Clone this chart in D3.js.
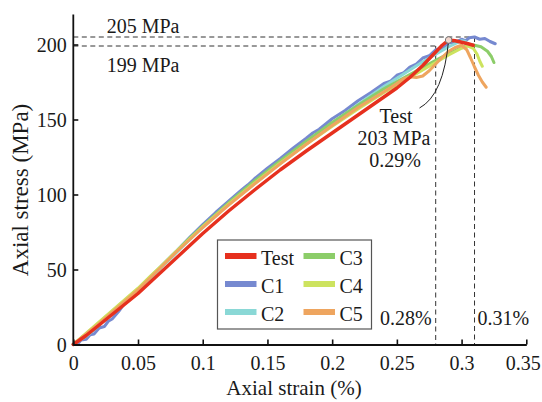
<!DOCTYPE html>
<html>
<head>
<meta charset="utf-8">
<script src="https://cdn.jsdelivr.net/npm/d3@7"></script>
<style>
  html, body { margin: 0; padding: 0; background: #fff; }
  svg text { font-family: "Liberation Serif", "Times New Roman", serif; fill: #1a1a1a; }
</style>
</head>
<body>
<svg id="chart" width="542" height="402"></svg>
<script>
// Stress–strain curves: laboratory test and five numerical cases
const seriesNames = ["Test", "C1", "C2", "C3", "C4", "C5"];

const testStrain = [0, 0.01, 0.02, 0.03, 0.04, 0.05, 0.06, 0.07, 0.08, 0.09, 0.10, 0.12, 0.14, 0.16, 0.18, 0.20, 0.22, 0.24, 0.25, 0.26, 0.27, 0.28, 0.285, 0.29, 0.295, 0.30, 0.305, 0.309];
const testStress = [0, 6, 13, 20, 27, 34, 42, 50, 58, 66, 74, 89, 103, 116.5, 129, 141, 153, 165, 171, 178, 186, 195, 199.5, 203, 202.5, 201.5, 200.5, 199.5];

const c1Strain = [0, 0.004, 0.006, 0.01, 0.013, 0.016, 0.02, 0.024, 0.027, 0.03, 0.035, 0.04, 0.05, 0.06, 0.07, 0.08, 0.09, 0.10, 0.11, 0.12, 0.13, 0.135, 0.14, 0.15, 0.16, 0.17, 0.18, 0.185, 0.19, 0.20, 0.21, 0.22, 0.23, 0.24, 0.245, 0.25, 0.255, 0.26, 0.265, 0.27, 0.275, 0.28, 0.285, 0.29, 0.295, 0.30, 0.303, 0.306, 0.31, 0.314, 0.318, 0.322, 0.326];
const c1Stress = [0, 1, 3, 3.5, 6.5, 7, 11, 12, 15.5, 17, 22, 28, 36.5, 45, 54, 62.5, 71.5, 80, 88, 95.5, 103, 106.5, 110.5, 117.5, 124, 131, 137.5, 141, 143.5, 150.5, 156, 162.5, 168, 174, 175.5, 179.5, 181, 185, 187, 191, 192.5, 196.5, 197.5, 201, 201.5, 203.5, 202.5, 204.5, 205, 203.5, 204, 202, 200.5];

const c2Strain = [0, 0.01, 0.02, 0.03, 0.04, 0.05, 0.06, 0.07, 0.08, 0.09, 0.10, 0.12, 0.14, 0.16, 0.18, 0.20, 0.22, 0.24, 0.26, 0.27, 0.28, 0.29, 0.295, 0.30, 0.303];
const c2Stress = [0, 5.5, 13, 21, 28.5, 36, 44.5, 53, 61.5, 70, 78, 93.5, 107.5, 121, 134.5, 147.5, 160, 172, 183, 188.5, 193.5, 198.5, 200.5, 202.5, 202];

const c3Strain = [0, 0.01, 0.02, 0.03, 0.04, 0.05, 0.06, 0.07, 0.08, 0.09, 0.10, 0.12, 0.14, 0.16, 0.18, 0.20, 0.22, 0.24, 0.26, 0.28, 0.29, 0.30, 0.305, 0.31, 0.315, 0.32, 0.323, 0.325];
const c3Stress = [0, 7, 14.5, 22, 29.5, 37, 45.5, 54, 62.5, 71, 79, 94.5, 109, 122.5, 135.5, 148, 159.5, 170.5, 180, 189.5, 194, 198, 200, 199.5, 198.5, 195.5, 192, 188];

const c4Strain = [0, 0.01, 0.02, 0.03, 0.04, 0.05, 0.06, 0.07, 0.08, 0.09, 0.10, 0.12, 0.14, 0.16, 0.18, 0.20, 0.22, 0.24, 0.26, 0.28, 0.29, 0.30, 0.305, 0.309, 0.312, 0.314, 0.316];
const c4Stress = [0, 7.5, 15, 22.5, 30, 37.5, 46, 54, 62.5, 70.5, 78.5, 93.5, 107.5, 121, 133.5, 145.5, 157, 168, 178, 188, 193, 197.5, 199, 197.5, 193.5, 189, 185.5];

const c5Strain = [0, 0.01, 0.02, 0.03, 0.04, 0.05, 0.06, 0.07, 0.08, 0.09, 0.10, 0.12, 0.14, 0.16, 0.18, 0.20, 0.22, 0.24, 0.25, 0.255, 0.26, 0.265, 0.27, 0.275, 0.28, 0.285, 0.29, 0.295, 0.30, 0.304, 0.307, 0.31, 0.313, 0.316, 0.319];
const c5Stress = [0, 7, 14, 21.5, 29, 36.5, 45, 53.5, 62, 70, 78, 93, 107, 120.5, 133.5, 146, 158, 168.5, 174, 177, 178.5, 178, 179, 182.5, 187, 191.5, 195.5, 198, 199.5, 196.5, 191, 185, 179.5, 175, 171.5];

const xTicks = [0, 0.05, 0.1, 0.15, 0.2, 0.25, 0.3, 0.35];
const yTicks = [0, 50, 100, 150, 200];

// Reference values marked with dashed guides
const peakStressMax = 205, peakStressMin = 199;
const peakStrainMin = 0.28, peakStrainMax = 0.31;
const testPeakStrain = 0.29, testPeakStress = 203;

const colors = {
  Test: "#e6301e", C1: "#7689d0", C2: "#8ad8d6",
  C3: "#8ccd69", C4: "#cde35f", C5: "#eea55f"
};

const strainBySeries = { Test: testStrain, C1: c1Strain, C2: c2Strain, C3: c3Strain, C4: c4Strain, C5: c5Strain };
const stressBySeries = { Test: testStress, C1: c1Stress, C2: c2Stress, C3: c3Stress, C4: c4Stress, C5: c5Stress };

const svg = d3.select("#chart");
const x = d3.scaleLinear().domain([0, 0.35]).range([73.3, 526.3]);
const y = d3.scaleLinear().domain([0, 220]).range([344.5, 14.5]);

// dashed guide lines
const guides = svg.append("g")
  .attr("stroke", "#333").attr("stroke-width", 1).attr("stroke-dasharray", "5,3.5").attr("fill", "none");
guides.append("line").attr("x1", x(0)).attr("x2", x(peakStrainMax)).attr("y1", y(peakStressMax)).attr("y2", y(peakStressMax));
guides.append("line").attr("x1", x(0)).attr("x2", x(peakStrainMin)).attr("y1", y(peakStressMin)).attr("y2", y(peakStressMin));
guides.append("line").attr("x1", x(peakStrainMax)).attr("x2", x(peakStrainMax)).attr("y1", y(peakStressMax)).attr("y2", y(0));
guides.append("line").attr("x1", x(peakStrainMin)).attr("x2", x(peakStrainMin)).attr("y1", y(peakStressMin)).attr("y2", y(0));

// curves (test drawn last, on top)
const line = d3.line().x(d => x(d[0])).y(d => y(d[1]));
const drawOrder = ["C1", "C2", "C3", "C4", "C5", "Test"];
svg.append("g").selectAll("path")
  .data(drawOrder)
  .join("path")
  .attr("d", name => line(d3.zip(strainBySeries[name], stressBySeries[name])))
  .attr("fill", "none")
  .attr("stroke", name => colors[name])
  .attr("stroke-width", name => name === "Test" ? 3.4 : 3)
  .attr("stroke-linejoin", "round")
  .attr("stroke-linecap", "round");

// axes
const xAxis = d3.axisBottom(x).tickValues(xTicks).tickFormat(d3.format("~g"))
  .tickSizeInner(-5).tickSizeOuter(0).tickPadding(11.5);
const gx = svg.append("g").attr("transform", `translate(0,${y(0)})`).call(xAxis);
gx.selectAll("text").attr("font-size", 20);
// keep the last tick label inside the frame
gx.selectAll(".tick").filter(d => d === 0.35).select("text").attr("dx", -3.5);

const yAxis = d3.axisLeft(y).tickValues(yTicks).tickFormat(d3.format("~g"))
  .tickSizeInner(-5).tickSizeOuter(0).tickPadding(6.5);
const gy = svg.append("g").attr("transform", `translate(${x(0)},0)`).call(yAxis);
gy.selectAll("text").attr("font-size", 20).attr("dy", "0.36em");

[gx, gy].forEach(g => {
  g.attr("font-family", null);
  g.select(".domain").attr("stroke", "#111").attr("stroke-width", 1.8);
  g.selectAll(".tick line").attr("stroke", "#111").attr("stroke-width", 1.6);
  g.selectAll("text").style("fill", "#1a1a1a");
});
// extend axis lines to the plot corner
gy.select(".domain").attr("d", `M0,${y(220)}V${y(0) + 0.9}`);

svg.append("text").attr("x", 294).attr("y", 395).attr("text-anchor", "middle")
  .attr("font-size", 21).text("Axial strain (%)");
svg.append("text").attr("transform", "translate(28,190) rotate(-90)").attr("text-anchor", "middle")
  .attr("font-size", 23).text("Axial stress (MPa)");

// guide labels
svg.append("text").attr("x", 106.7).attr("y", y(peakStressMax) - 4).attr("font-size", 20).text(`${peakStressMax} MPa`);
svg.append("text").attr("x", 106.7).attr("y", y(peakStressMin) + 26).attr("font-size", 20).text(`${peakStressMin} MPa`);
svg.append("text").attr("x", x(peakStrainMin) - 4).attr("y", 325).attr("text-anchor", "end").attr("font-size", 20).text(`${peakStrainMin}%`);
svg.append("text").attr("x", x(peakStrainMax) + 3).attr("y", 325).attr("font-size", 20).text(`${peakStrainMax}%`);

// peak of the test curve with leader and annotation
const px = x(testPeakStrain), py = y(testPeakStress);
svg.append("path")
  .attr("d", `M${px},${py} Q${px - 5},${py + 55} ${419.5},${108}`)
  .attr("fill", "none").attr("stroke", "#222").attr("stroke-width", 1);
svg.append("circle").attr("cx", px).attr("cy", py).attr("r", 3.3)
  .attr("fill", "#f3d6cc").attr("stroke", "#777").attr("stroke-width", 1);
const ann = svg.append("text").attr("text-anchor", "middle").attr("font-size", 20);
ann.append("tspan").attr("x", 396).attr("y", 123).text("Test");
ann.append("tspan").attr("x", 394).attr("y", 145).text(`${testPeakStress} MPa`);
ann.append("tspan").attr("x", 395).attr("y", 167).text(`${testPeakStrain}%`);

// legend
const legend = svg.append("g");
legend.append("rect").attr("x", 217.5).attr("y", 240).attr("width", 154).attr("height", 89)
  .attr("fill", "#fff").attr("stroke", "#555").attr("stroke-width", 1.2);
seriesNames.forEach((name, i) => {
  const col = Math.floor(i / 3), row = i % 3;
  const sx = 225 + col * 78.5, sy = 256 + row * 28;
  legend.append("line").attr("x1", sx).attr("x2", sx + 31.5).attr("y1", sy).attr("y2", sy)
    .attr("stroke", colors[name]).attr("stroke-width", 6);
  legend.append("text").attr("x", sx + 36).attr("y", sy + 8.5).attr("font-size", 20).text(name);
});
</script>
</body>
</html>
